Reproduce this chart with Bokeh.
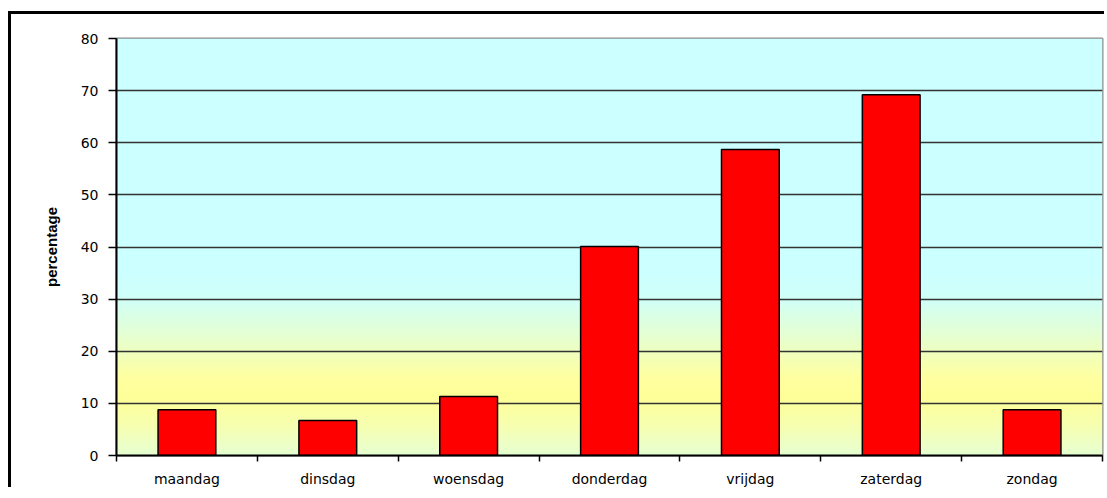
import numpy as np
from bokeh.plotting import figure
from bokeh.models import Range1d, FixedTicker
from bokeh.embed import file_html
from bokeh.resources import INLINE

# ---- data ----
days = ["maandag", "dinsdag", "woensdag", "donderdag", "vrijdag", "zaterdag", "zondag"]
values = [8.8, 6.7, 11.3, 40.1, 58.7, 69.2, 8.8]
y_ticks = [0, 10, 20, 30, 40, 50, 60, 70, 80]
y_label = "percentage"

# ---- background gradient stops (value -> colour) ----
grad_v = [0, 5, 11, 15, 22, 30, 35, 80]
grad_c = [(230, 255, 210), (245, 255, 180), (255, 255, 153), (255, 255, 160),
          (232, 255, 205), (208, 255, 248), (204, 255, 255), (204, 255, 255)]

n_days = len(days)
centers = [i + 0.5 for i in range(n_days)]
bounds = list(range(n_days + 1))

p = figure(width=1096, height=476, output_backend="svg", toolbar_location=None,
           x_range=Range1d(0, n_days), y_range=Range1d(y_ticks[0], y_ticks[-1]),
           min_border_left=105, min_border_right=5, min_border_top=24, min_border_bottom=35)
p.styles = {"border-left": "3px solid black", "border-top": "3px solid black",
            "margin-top": "11px", "margin-left": "8px"}

# gradient background image
n = 400
vs = np.linspace(y_ticks[0], y_ticks[-1], n)
img = np.zeros((n, 2), dtype=np.uint32)
view = img.view(dtype=np.uint8).reshape((n, 2, 4))
for k in range(3):
    ch = np.interp(vs, grad_v, [c[k] for c in grad_c])
    view[:, :, k] = np.round(ch)[:, None].astype(np.uint8)
view[:, :, 3] = 255
p.image_rgba(image=[img], x=0, y=y_ticks[0], dw=n_days, dh=y_ticks[-1] - y_ticks[0], level="image")

p.background_fill_color = "#ccffff"
p.border_fill_color = "white"
p.outline_line_color = "#8c8c8c"
p.outline_line_width = 2

# bars
p.vbar(x=centers, top=values, width=0.41, bottom=0,
       fill_color="#ff0000", line_color="black", line_width=1.5)

# grid
p.xgrid.visible = False
p.ygrid.ticker = FixedTicker(ticks=y_ticks[:-1])
p.ygrid.grid_line_color = "#333333"
p.ygrid.grid_line_width = 1.5

font = "'DejaVu Sans', 'Liberation Sans', sans-serif"

# y axis
ya = p.yaxis[0]
ya.ticker = FixedTicker(ticks=y_ticks)
ya.axis_line_color = "black"
ya.axis_line_width = 2
ya.major_tick_line_color = "black"
ya.major_tick_line_width = 1.5
ya.major_tick_out = 8
ya.major_tick_in = 0
ya.minor_tick_line_color = None
ya.major_label_text_font = font
ya.major_label_text_font_size = "14px"
ya.major_label_text_color = "black"
ya.major_label_standoff = 10
ya.axis_label = y_label
ya.axis_label_text_font = "'Liberation Sans', sans-serif"
ya.axis_label_text_font_style = "bold"
ya.axis_label_text_font_size = "15px"
ya.axis_label_text_color = "black"
ya.axis_label_standoff = 18

# x axis
xa = p.xaxis[0]
xa.ticker = FixedTicker(ticks=centers, minor_ticks=bounds)
xa.major_label_overrides = {c: d for c, d in zip(centers, days)}
xa.axis_line_color = "black"
xa.axis_line_width = 2
xa.major_tick_line_color = None
xa.major_tick_out = 6
xa.major_tick_in = 0
xa.minor_tick_line_color = "black"
xa.minor_tick_line_width = 1.5
xa.minor_tick_out = 6
xa.minor_tick_in = 0
xa.major_label_text_font = font
xa.major_label_text_font_size = "14px"
xa.major_label_text_color = "black"
xa.major_label_standoff = 9

open("out.html", "w").write(file_html(p, INLINE))
